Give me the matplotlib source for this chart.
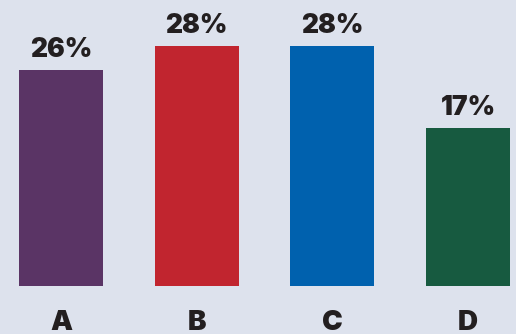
import matplotlib
matplotlib.use("Agg")
import matplotlib.pyplot as plt

categories = ["A", "B", "C", "D"]
values = [26, 28, 28, 17]              # printed percentages
bar_heights = [25.2, 28, 28, 18.4]     # bar lengths as drawn in the picture
colors = ["#5a3465", "#c1252f", "#0061ae", "#175a40"]

W, H = 516, 334
fig = plt.figure(figsize=(W / 100, H / 100), dpi=100)
fig.patch.set_facecolor("#dde2ed")

base_px = 286
ax = fig.add_axes([0, (H - base_px) / H, 1, base_px / H])
ax.set_facecolor("none")
px_per_unit = (468 - 61) / 3
ax.set_xlim(-61 / px_per_unit, (W - 61) / px_per_unit)
ax.set_ylim(0, base_px / 240 * 28)

x = list(range(len(categories)))
ax.bar(x, bar_heights, width=84 / px_per_unit, color=colors)

font = dict(family="Inter", weight=900, color="#231f20")
for xi, h, v in zip(x, bar_heights, values):
    ax.annotate(f"{v}%", (xi, h), xytext=(0, 5), textcoords="offset points",
                ha="center", va="bottom", fontsize=19, **font)

ax.set_xticks(x)
ax.set_xticklabels(categories, fontsize=20, **font)
ax.tick_params(axis="x", length=0, pad=17)
ax.set_yticks([])
for s in ax.spines.values():
    s.set_visible(False)

fig.savefig("out.png", dpi=100, facecolor=fig.get_facecolor())
